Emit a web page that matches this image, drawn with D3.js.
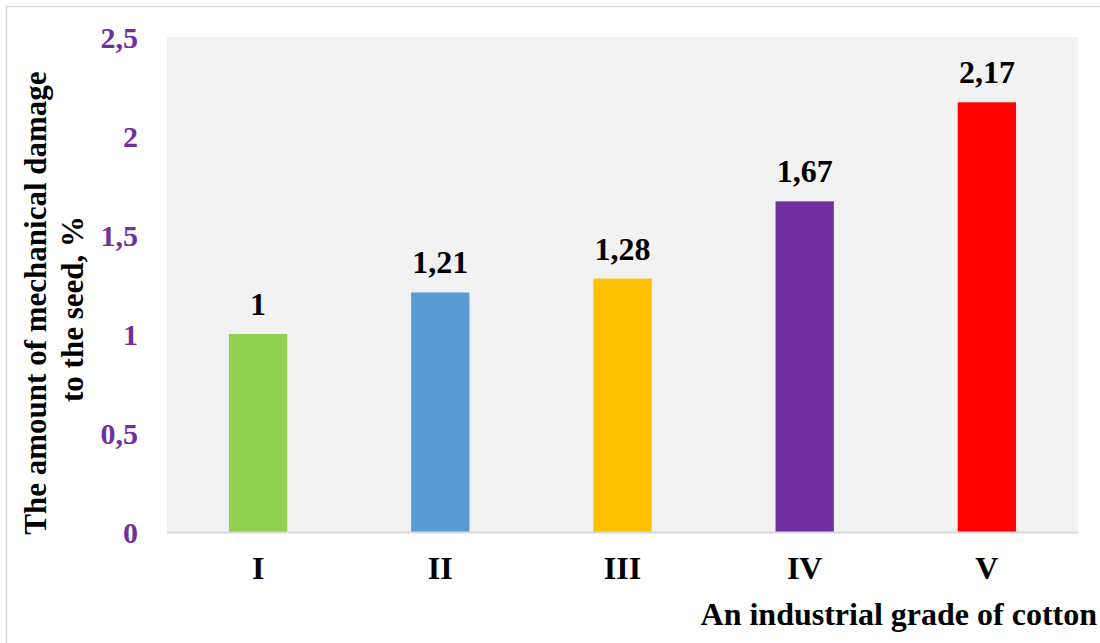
<!DOCTYPE html>
<html><head><meta charset="utf-8">
<script src="https://cdn.jsdelivr.net/npm/d3@7"></script>
<style>body{margin:0;background:#fff}svg{display:block}</style>
</head><body><svg id="c" width="1100" height="643" font-family="Liberation Serif" font-weight="bold"></svg>
<script>
const categories = ["I","II","III","IV","V"];
const values = [1, 1.21, 1.28, 1.67, 2.17];
const barColors = ["#92D050","#5B9BD5","#FFC000","#7030A0","#FF0000"];
const yTicks = [0, 0.5, 1, 1.5, 2, 2.5];
const yTitleLines = ["The amount of mechanical damage", "to the seed, %"];
const xTitle = "An industrial grade of cotton";

const FONT = "Liberation Serif";
const svg = d3.select("#c");
const fmt = v => String(v).replace(".", ",");
const m = {l:167, r:1078, t:37, b:532};

svg.append("rect").attr("x",6.5).attr("y",6.5).attr("width",1100).attr("height",643)
  .attr("fill","#fff").attr("stroke","#d9d9d9").attr("stroke-width",1.5);

const x = d3.scaleBand().domain(categories).range([m.l, m.r]).paddingInner(0.68).paddingOuter(0.34);
const y = d3.scaleLinear().domain([0, 2.5]).range([m.b, m.t]);

svg.append("rect").attr("x",m.l).attr("y",m.t).attr("width",m.r-m.l).attr("height",m.b-m.t).attr("fill","#F2F2F2");

svg.selectAll("rect.bar").data(values).join("rect").attr("class","bar")
  .attr("x",(d,i)=>x(categories[i])).attr("width",x.bandwidth())
  .attr("y",d=>y(d)).attr("height",d=>y(0)-y(d)).attr("fill",(d,i)=>barColors[i]);

svg.append("line").attr("x1",m.l).attr("x2",m.r).attr("y1",m.b+0.5).attr("y2",m.b+0.5)
  .attr("stroke","#d9d9d9").attr("stroke-width",2);

svg.selectAll("text.val").data(values).join("text").attr("class","val")
  .attr("x",(d,i)=>x(categories[i])+x.bandwidth()/2).attr("y",d=>y(d)-19)
  .attr("text-anchor","middle").attr("font-family",FONT).attr("font-weight","bold")
  .attr("font-size",32).attr("fill","#000").text(d=>fmt(d));

const yAxis = svg.append("g").attr("transform",`translate(${m.l},0)`)
  .call(d3.axisLeft(y).tickValues(yTicks).tickFormat(fmt).tickSize(0).tickPadding(29));
yAxis.select(".domain").remove();
yAxis.attr("font-family",FONT).attr("font-size",null);
yAxis.selectAll("text").attr("font-size",30).attr("fill","#7030A0")
  .attr("font-family",FONT).attr("font-weight","bold").attr("dy","0.34em");

const xAxis = svg.append("g").attr("transform",`translate(0,${m.b})`)
  .call(d3.axisBottom(x).tickSize(0).tickPadding(24));
xAxis.select(".domain").remove();
xAxis.attr("font-family",FONT).attr("font-size",null);
xAxis.selectAll("text").attr("font-size",32).attr("fill","#000")
  .attr("font-family",FONT).attr("font-weight","bold");

svg.append("text").attr("transform","translate(46,303) rotate(-90)").attr("text-anchor","middle")
  .attr("font-family",FONT).attr("font-weight","bold")
  .attr("font-size",31).attr("fill","#000").text(yTitleLines[0]);
svg.append("text").attr("transform","translate(83,309) rotate(-90)").attr("text-anchor","middle")
  .attr("font-family",FONT).attr("font-weight","bold")
  .attr("font-size",31).attr("fill","#000").text(yTitleLines[1]);

svg.append("text").attr("x",1097).attr("y",625).attr("text-anchor","end")
  .attr("font-family",FONT).attr("font-weight","bold")
  .attr("font-size",32).attr("fill","#000").text(xTitle);
</script></body></html>
